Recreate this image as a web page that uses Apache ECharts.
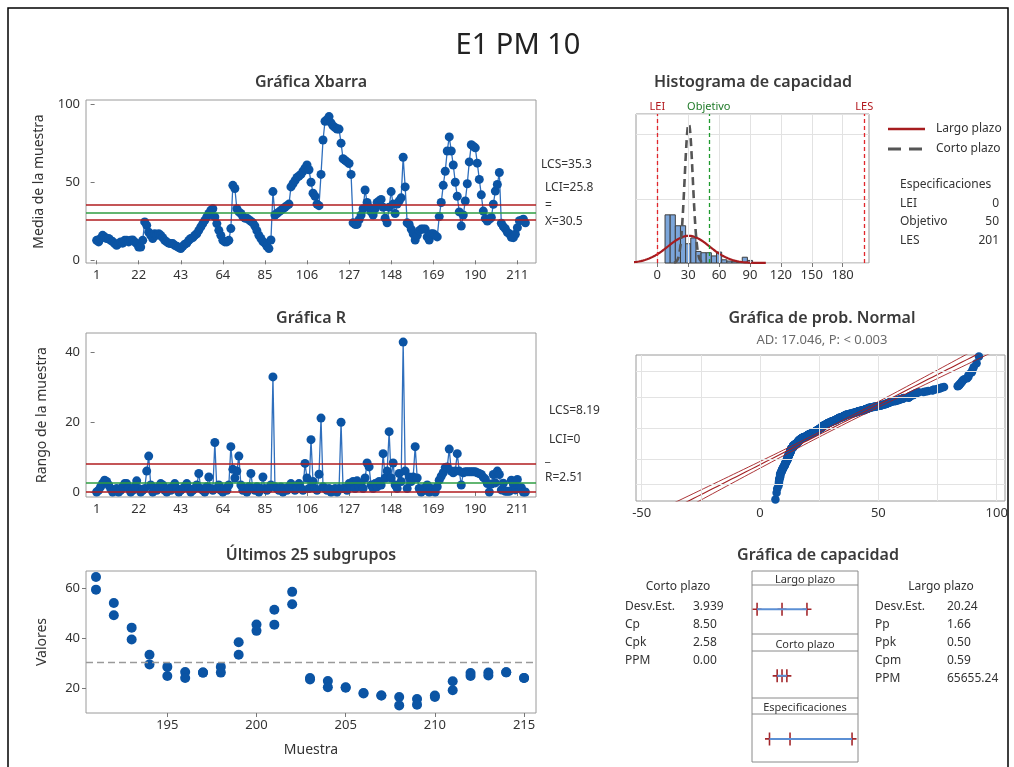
<!DOCTYPE html>
<html lang="es">
<head>
<meta charset="UTF-8">
<title>E1 PM 10</title>
<style>
  html, body { margin: 0; padding: 0; background: #fff; }
  #grafica { width: 1014px; height: 767px; }
</style>
<script src="https://cdn.jsdelivr.net/npm/echarts@6.0.0/dist/echarts.min.js"></script>
</head>
<body>
<div id="grafica"></div>
<script>
// ---- datos ----
// medias de subgrupo (n = 2), subgrupos 1..215
const mediasXbar = [
  12.8, 11.8, 14, 16, 15, 14, 14, 12.8, 12, 10.7,
  9.6, 10.7, 11.8, 11, 12.8, 12.8, 11.8, 12.8, 13, 11.8,
  10.7, 8.5, 8.5, 12.8, 24.6, 22.4, 18, 16, 14, 17,
  16, 17, 16, 14.5, 12.8, 11.8, 11, 10.7, 10.7, 9.6,
  9, 8.1, 7.5, 9, 10.3, 11, 12.8, 14, 14.5, 16,
  17, 19.2, 21.4, 23.5, 25.6, 27.8, 30, 32, 33, 27.8,
  23.5, 19.2, 16, 12.8, 11.8, 11.8, 12.8, 20.3, 48, 46,
  33, 31, 30, 28, 27, 27, 26, 25, 24, 22,
  19, 16, 14, 12, 11, 9, 7.5, 13, 44, 29,
  30, 31, 32, 33, 34, 35, 36, 47, 49, 51,
  53, 54, 55, 57, 59, 61, 58, 50, 43, 41,
  36, 35, 55, 77, 89, 90, 92, 88, 86, 85,
  84, 84, 75, 65, 64, 63, 62, 55, 24, 23,
  23, 26, 29, 33, 45, 37, 34, 31, 29, 33,
  37, 38, 39, 34, 27, 24, 34, 44, 36, 30,
  36, 38, 40, 66, 47, 24, 23, 20, 17, 13,
  16, 19, 20, 20, 20, 15, 13, 17, 17, 16,
  15, 28, 37, 48, 57, 70, 79, 70, 61, 50,
  41, 31, 22, 29, 38, 49, 63, 74, 73, 72,
  62.2, 51.8, 41.9, 31.5, 26.7, 25.2, 26.2, 27.4, 35.9, 44.3,
  48.5, 56.2, 23.7, 21.6, 20.2, 17.9, 17, 14.7, 14.5, 16.7,
  20.9, 25.4, 25.6, 26.3, 24
];

// rangos de subgrupo, subgrupos 1..215
const rangosR = [
  0, 0.5, 1.5, 2.5, 3.4, 3, 2, 1, 0, 0.5,
  1, 0, 0.5, 1.5, 2.4, 2.4, 1, 0, 0.5, 1.5,
  3.2, 1, 0, 0.5, 1, 6, 10.3, 2, 0, 1,
  0.5, 1.5, 2.4, 2, 0.5, 0, 1, 0.5, 1.5, 2.4,
  1, 0, 0.5, 1, 1.5, 2.4, 1, 0, 0.5, 1,
  2, 5.3, 1, 0.5, 0, 1.5, 4.3, 1, 0.5, 14.2,
  1, 2, 0.5, 0, 1, 0.5, 2, 13, 6.5, 4,
  6, 10.3, 2, 0.5, 1, 0, 1.5, 5.3, 1, 0.5,
  1.5, 0, 1, 4.3, 1, 0.5, 1, 2, 33, 1.5,
  1, 0.5, 1.4, 0, 1, 0.5, 1.5, 2.4, 1, 0.5,
  1, 2.4, 1, 0.5, 8.2, 4, 1, 15, 3, 1,
  0.5, 5.1, 21.2, 1.5, 1, 0.5, 1, 0, 0.5, 1,
  0, 1, 20, 1, 1, 0.5, 2.4, 1.5, 3, 1,
  3.2, 1.5, 2.4, 1, 4, 8.3, 7.2, 2, 1, 2.4,
  1.5, 3, 2, 11, 4, 6, 17.3, 4, 8.3, 2,
  1, 5.3, 3, 43, 6, 1, 4.3, 3, 4.3, 13,
  4, 1, 0, 1, 0.5, 2, 0, 1, 0.5, 0,
  1.5, 3.4, 4.5, 5.5, 7, 7.2, 12.3, 6, 5.5, 6,
  11, 6, 2, 5.5, 5.8, 5.8, 5.8, 5.8, 5.8, 5.8,
  5.5, 5.3, 5, 4.2, 3.7, 2.4, 0, 2.3, 5, 2.6,
  6, 5, 0.6, 2.5, 0.2, 0.2, 0.2, 3.4, 2.3, 0.6,
  3.6, 1.2, 1.2, 0, 0
];

// ultimos 25 subgrupos: valor alto y valor bajo de cada uno
const ultimosSub = [191, 192, 193, 194, 195, 196, 197, 198, 199, 200, 201, 202, 203,
  204, 205, 206, 207, 208, 209, 210, 211, 212, 213, 214, 215];
const ultimosAlto = [64.7, 54.2, 44.3, 33.4, 28.5, 26.4, 26.2, 28.5, 38.4, 45.6, 51.5, 58.7, 24.0,
  22.8, 20.3, 18.0, 17.0, 16.4, 15.6, 17.0, 22.7, 26.0, 26.2, 26.3, 24.0];
const ultimosBajo = [59.6, 49.3, 39.5, 29.5, 24.8, 24.0, 26.2, 26.2, 33.4, 43.0, 45.5, 53.7, 23.4,
  20.3, 20.1, 17.8, 17.0, 13.0, 13.3, 16.4, 19.1, 24.8, 25.0, 26.3, 24.0];

// histograma: marcas de clase (ancho 5) y frecuencias
const histMarcas = [10, 15, 20, 25, 30, 35, 40, 45, 50, 55, 60, 65, 70, 75, 80, 85, 90];
const histConteos = [75, 75, 58, 58, 30, 39, 18, 16, 16, 11, 17, 5, 3, 2, 1, 9, 4];
const anchoClase = 5;

// limites de control
const limitesXbar = [35.3, 30.5, 25.8];   // LCS, media, LCI
const limitesR = [8.19, 2.51, 0];         // LCS, R media, LCI

// especificaciones y estadisticos
const especNombres = ['LEI', 'Objetivo', 'LES'];
const especValores = [0, 50, 201];
const mediaProceso = 30.5;
const desvCorto = 3.939;
const desvLargo = 20.24;

const cortoNombres = ['Desv.Est.', 'Cp', 'Cpk', 'PPM'];
const cortoValores = ['3.939', '8.50', '2.58', '0.00'];
const largoNombres = ['Desv.Est.', 'Pp', 'Ppk', 'Cpm', 'PPM'];
const largoValores = ['20.24', '1.66', '0.50', '0.59', '65655.24'];

// marcas de los ejes
const ticksSub = [1, 22, 43, 64, 85, 106, 127, 148, 169, 190, 211];
const ticksUltimos = [195, 200, 205, 210, 215];
const ticksHist = [0, 30, 60, 90, 120, 150, 180];
const ticksProb = [-50, -25, 0, 25, 50, 75, 100];
const etiquetasProb = [-50, 0, 50, 100];
const percentilesProb = [1, 10, 50, 90, 99];

// ---- estilo ----
const FUENTE = 'Noto Sans';
const TXT = '#333333';
const AZUL = '#0b54a4';
const AZUL_LINEA = '#2f6fbd';
const ROJO = '#b01c1f';
const VERDE = '#2e9e42';
const BORDE = '#9a9a9a';

// normal inversa (Acklam)
function normalInv(p) {
  const a = [-3.969683028665376e+01, 2.209460984245205e+02, -2.759285104469687e+02, 1.383577518672690e+02, -3.066479806614716e+01, 2.506628277459239e+00];
  const b = [-5.447609879822406e+01, 1.615858368580409e+02, -1.556989798598866e+02, 6.680131188771972e+01, -1.328068155288572e+01];
  const c = [-7.784894002430293e-03, -3.223964580411365e-01, -2.400758277161838e+00, -2.549732539343734e+00, 4.374664141464968e+00, 2.938163982698783e+00];
  const d = [7.784695709041462e-03, 3.224671290700398e-01, 2.445134137142996e+00, 3.754408661907416e+00];
  const pl = 0.02425;
  let q, r;
  if (p < pl) {
    q = Math.sqrt(-2 * Math.log(p));
    return (((((c[0]*q+c[1])*q+c[2])*q+c[3])*q+c[4])*q+c[5]) / ((((d[0]*q+d[1])*q+d[2])*q+d[3])*q+1);
  }
  if (p > 1 - pl) {
    q = Math.sqrt(-2 * Math.log(1 - p));
    return -(((((c[0]*q+c[1])*q+c[2])*q+c[3])*q+c[4])*q+c[5]) / ((((d[0]*q+d[1])*q+d[2])*q+d[3])*q+1);
  }
  q = p - 0.5; r = q * q;
  return (((((a[0]*r+a[1])*r+a[2])*r+a[3])*r+a[4])*r+a[5])*q / (((((b[0]*r+b[1])*r+b[2])*r+b[3])*r+b[4])*r+1);
}

function densidadNormal(x, m, s) {
  return Math.exp(-0.5 * Math.pow((x - m) / s, 2)) / (s * Math.sqrt(2 * Math.PI));
}

// ---- datos derivados ----
const subgrupos = mediasXbar.map((v, i) => i + 1);
const datosXbar = subgrupos.map((s, i) => [s, mediasXbar[i]]);
const datosR = subgrupos.map((s, i) => [s, rangosR[i]]);

// observaciones individuales (n = 2): media +/- R/2
const individuales = [];
mediasXbar.forEach((m, i) => { individuales.push(m - rangosR[i] / 2, m + rangosR[i] / 2); });
individuales.sort((x, y) => x - y);
const nObs = individuales.length;
const datosProb = individuales.map((v, i) => [v, normalInv((i + 1 - 0.3) / (nObs + 0.4))]);

// curvas normales del histograma (escala de frecuencias)
function curva(s, k) {
  const out = [];
  for (let x = mediaProceso - k * s; x <= mediaProceso + k * s + 1e-9; x += s / 40) {
    out.push([x, densidadNormal(x, mediaProceso, s) * nObs * anchoClase]);
  }
  return out;
}

// recta ajustada e intervalos de confianza
const zRango = [];
for (let z = -3.4; z <= 3.41; z += 0.1) zRango.push(z);
const rectaAjuste = zRango.map(z => [mediaProceso + z * desvLargo, z]);
const bandaInf = zRango.map(z => [mediaProceso + z * desvLargo - 1.96 * desvLargo * Math.sqrt(1 / nObs + z * z / (2 * nObs)), z]);
const bandaSup = zRango.map(z => [mediaProceso + z * desvLargo + 1.96 * desvLargo * Math.sqrt(1 / nObs + z * z / (2 * nObs)), z]);

// grafica de capacidad: intervalos +/- 3 desv.
const filaLargo = 86.3, filaCorto = 48.7, filaEspec = 13;
const intLargo = [mediaProceso - 3 * desvLargo, mediaProceso, mediaProceso + 3 * desvLargo];
const intCorto = [mediaProceso - 3 * desvCorto, mediaProceso, mediaProceso + 3 * desvCorto];

// ---- ayudas ----
function texto(t, x, y, extra) {
  return {
    type: 'text', x: x, y: y, silent: true,
    style: Object.assign({
      text: t, fill: TXT, fontSize: 12, fontFamily: FUENTE,
      align: 'left', textAlign: 'left', verticalAlign: 'middle', textVerticalAlign: 'middle'
    }, extra || {})
  };
}
function titulo(t, x, y) {
  return texto(t, x, y, { fontSize: 16, fontWeight: 600, fill: '#3a3a3a', align: 'center', textAlign: 'center' });
}
function linea(x1, y1, x2, y2, color, ancho, guion) {
  return { type: 'line', silent: true, shape: { x1, y1, x2, y2 },
    style: { stroke: color, lineWidth: ancho, lineDash: guion || null } };
}

function ejeValor(gi, min, max, ticks, extra) {
  return Object.assign({
    type: 'value', gridIndex: gi, min: min, max: max,
    axisLine: { show: false },
    axisTick: { show: true, customValues: ticks, length: 4, lineStyle: { color: '#777' } },
    axisLabel: { customValues: ticks, color: TXT, fontSize: 13, fontFamily: FUENTE, margin: 6 },
    splitLine: { show: false }
  }, extra || {});
}
function nombreY(nombre, gap) {
  return { name: nombre, nameLocation: 'middle', nameGap: gap,
    nameTextStyle: { color: TXT, fontSize: 14, fontFamily: FUENTE } };
}
function lineasMarca(lista) {
  return { silent: true, symbol: 'none', animation: false, label: { show: false }, data: lista };
}

const cajaGrid = { show: true, borderColor: BORDE, borderWidth: 1, backgroundColor: 'transparent', outerBoundsMode: 'none' };

const marcaCruz = 'path://M0,5.2H8V6.8H0Z M3.3,0H4.7V12H3.3Z';
const puntoAzul = { color: AZUL, opacity: 1 };

// ---- grafica ----
const grafica = echarts.init(document.getElementById('grafica'));

const opcion = {
  animation: false,
  backgroundColor: '#ffffff',
  textStyle: { fontFamily: FUENTE },
  grid: [
    Object.assign({ left: 86, top: 100, width: 450, height: 163 }, cajaGrid),
    Object.assign({ left: 86, top: 333, width: 450, height: 164 }, cajaGrid),
    Object.assign({ left: 86, top: 571, width: 450, height: 142 }, cajaGrid),
    Object.assign({ left: 636, top: 114, width: 233, height: 149 }, cajaGrid),
    Object.assign({ left: 636, top: 355, width: 369, height: 146 }, cajaGrid),
    { left: 752, top: 585, width: 106, height: 177, show: false, outerBoundsMode: 'none' }
  ],
  xAxis: [
    ejeValor(0, -4.3, 220.3, ticksSub),
    ejeValor(1, -4.3, 220.3, ticksSub),
    ejeValor(2, 190.44, 215.67, ticksUltimos, {
      name: 'Muestra', nameLocation: 'middle', nameGap: 30,
      nameTextStyle: { color: TXT, fontSize: 14, fontFamily: FUENTE }
    }),
    ejeValor(3, -20.7, 205.6, ticksHist),
    Object.assign(ejeValor(4, -52.4, 103.5, ticksProb), {
      axisLabel: { customValues: etiquetasProb, color: TXT, fontSize: 13, fontFamily: FUENTE, margin: 6 }
    }),
    { type: 'value', gridIndex: 5, min: -42.6, max: 215.5, show: false }
  ],
  yAxis: [
    Object.assign(ejeValor(0, -1.7, 102.6, [0, 50, 100]), nombreY('Media de la muestra', 40)),
    Object.assign(ejeValor(1, -1.44, 45.6, [0, 20, 40]), nombreY('Rango de la muestra', 37)),
    Object.assign(ejeValor(2, 9.94, 67.1, [20, 40, 60]), nombreY('Valores', 37)),
    { type: 'value', gridIndex: 3, min: 0, max: 232, interval: 100,
      axisLine: { show: false }, axisTick: { show: false }, axisLabel: { show: false },
      splitLine: { show: true, lineStyle: { color: '#e2e2e2' } } },
    { type: 'value', gridIndex: 4, min: -3.0, max: 3.0,
      axisLine: { show: false }, axisTick: { show: false }, axisLabel: { show: false },
      splitLine: { show: false } },
    { type: 'value', gridIndex: 5, min: 0, max: 100, show: false }
  ],
  series: [
    // --- Xbarra ---
    { type: 'line', xAxisIndex: 0, yAxisIndex: 0, data: [],
      markLine: lineasMarca(limitesXbar.map((v, k) => ({ yAxis: v,
        lineStyle: { color: k === 1 ? VERDE : ROJO, width: 1.6, type: 'solid' } }))) },
    { type: 'line', xAxisIndex: 0, yAxisIndex: 0, data: datosXbar,
      symbol: 'circle', symbolSize: 9, showAllSymbol: true,
      lineStyle: { color: AZUL_LINEA, width: 1.3 }, itemStyle: puntoAzul },
    // --- R ---
    { type: 'line', xAxisIndex: 1, yAxisIndex: 1, data: [],
      markLine: lineasMarca(limitesR.map((v, k) => ({ yAxis: v,
        lineStyle: { color: k === 1 ? VERDE : ROJO, width: 1.6, type: 'solid' } }))) },
    { type: 'line', xAxisIndex: 1, yAxisIndex: 1, data: datosR,
      symbol: 'circle', symbolSize: 9, showAllSymbol: true,
      lineStyle: { color: AZUL_LINEA, width: 1.3 }, itemStyle: puntoAzul },
    // --- ultimos 25 ---
    { type: 'line', xAxisIndex: 2, yAxisIndex: 2, data: [],
      markLine: lineasMarca([{ yAxis: mediaProceso, lineStyle: { color: '#9a9a9a', width: 1.3, type: [7, 4] } }]) },
    { type: 'scatter', xAxisIndex: 2, yAxisIndex: 2, symbolSize: 10, itemStyle: puntoAzul,
      data: ultimosSub.map((s, i) => [s, ultimosAlto[i]]) },
    { type: 'scatter', xAxisIndex: 2, yAxisIndex: 2, symbolSize: 10, itemStyle: puntoAzul,
      data: ultimosSub.map((s, i) => [s, ultimosBajo[i]]) },
    // --- histograma ---
    { type: 'line', xAxisIndex: 3, yAxisIndex: 3, data: [],
      markLine: lineasMarca(ticksHist.map(v => ({ xAxis: v, lineStyle: { color: '#e2e2e2', width: 1, type: 'solid' } }))) },
    { type: 'custom', xAxisIndex: 3, yAxisIndex: 3,
      data: histMarcas.map((m, k) => [m - anchoClase / 2, m + anchoClase / 2, histConteos[k]]),
      encode: { x: [0, 1], y: 2 },
      renderItem: function (params, api) {
        const p0 = api.coord([api.value(0), api.value(2)]);
        const p1 = api.coord([api.value(1), 0]);
        return { type: 'rect', shape: { x: p0[0], y: p0[1], width: p1[0] - p0[0], height: p1[1] - p0[1] },
          style: { fill: '#7ba5da', stroke: '#3f3f3f', lineWidth: 1 } };
      } },
    { type: 'line', xAxisIndex: 3, yAxisIndex: 3, data: [],
      markLine: {
        silent: true, symbol: 'none', animation: false,
        data: especValores.map((v, k) => ({ xAxis: v, name: especNombres[k],
          lineStyle: { color: k === 1 ? '#1f9a2e' : '#e0262b', width: 1.3, type: [4, 3] },
          label: { show: true, position: 'end', formatter: especNombres[k], distance: 2,
            color: k === 1 ? '#1f7a28' : '#b3181d', fontSize: 11, fontFamily: FUENTE } }))
      } },
    { type: 'line', xAxisIndex: 3, yAxisIndex: 3, data: curva(desvLargo, 3.7), showSymbol: false,
      lineStyle: { color: '#a61c1f', width: 2.2 } },
    { type: 'line', xAxisIndex: 3, yAxisIndex: 3, data: curva(desvCorto, 3.6), showSymbol: false,
      lineStyle: { color: '#555555', width: 2.6, type: [8, 5] } },
    // --- probabilidad normal ---
    { type: 'line', xAxisIndex: 4, yAxisIndex: 4, data: [],
      markLine: lineasMarca(
        ticksProb.map(v => ({ xAxis: v, lineStyle: { color: '#e3e3e3', width: 1, type: 'solid' } }))
          .concat(percentilesProb.map(p => ({ yAxis: normalInv(p / 100), lineStyle: { color: '#e3e3e3', width: 1, type: 'solid' } })))) },
    { type: 'line', xAxisIndex: 4, yAxisIndex: 4, data: bandaInf, showSymbol: false, lineStyle: { color: '#a31f22', width: 0.9 } },
    { type: 'line', xAxisIndex: 4, yAxisIndex: 4, data: bandaSup, showSymbol: false, lineStyle: { color: '#a31f22', width: 0.9 } },
    { type: 'line', xAxisIndex: 4, yAxisIndex: 4, data: rectaAjuste, showSymbol: false, lineStyle: { color: '#a31f22', width: 1.1 } },
    { type: 'scatter', xAxisIndex: 4, yAxisIndex: 4, data: datosProb, symbolSize: 8.5, itemStyle: puntoAzul },
    // --- grafica de capacidad ---
    { type: 'line', xAxisIndex: 5, yAxisIndex: 5, showSymbol: false, lineStyle: { color: '#5b8fd4', width: 2 },
      data: [[intLargo[0], filaLargo], [intLargo[2], filaLargo]] },
    { type: 'line', xAxisIndex: 5, yAxisIndex: 5, showSymbol: false, lineStyle: { color: '#5b8fd4', width: 2 },
      data: [[intCorto[0], filaCorto], [intCorto[2], filaCorto]] },
    { type: 'line', xAxisIndex: 5, yAxisIndex: 5, showSymbol: false, lineStyle: { color: '#5b8fd4', width: 2 },
      data: [[especValores[0], filaEspec], [especValores[2], filaEspec]] },
    { type: 'scatter', xAxisIndex: 5, yAxisIndex: 5, symbol: marcaCruz, symbolSize: [9, 13],
      itemStyle: { color: '#a3262a', opacity: 1 },
      data: intLargo.map(v => [v, filaLargo]).concat(intCorto.map(v => [v, filaCorto]), especValores.map(v => [v, filaEspec])) }
  ],
  graphic: { elements: [] }
};

const g = opcion.graphic.elements;
// marco exterior
g.push({ type: 'rect', silent: true, shape: { x: 8, y: 8, width: 1000, height: 800 },
  style: { fill: 'none', stroke: '#000', lineWidth: 1.5 } });
// titulos
g.push(texto('E1 PM 10', 518, 46, { fontSize: 29, fill: '#222', align: 'center', textAlign: 'center' }));
g.push(titulo('Gráfica Xbarra', 311, 82));
g.push(titulo('Histograma de capacidad', 753, 82));
g.push(titulo('Gráfica R', 311, 318));
g.push(titulo('Gráfica de prob. Normal', 822, 318));
g.push(texto('AD: 17.046, P: < 0.003', 822, 340, { fontSize: 13, fill: '#6a6a6a', align: 'center', textAlign: 'center' }));
g.push(titulo('Últimos 25 subgrupos', 311, 555));
g.push(titulo('Gráfica de capacidad', 818, 555));
// etiquetas de limites
g.push(texto('LCS=' + limitesXbar[0], 541, 165));
g.push(texto('LCI=' + limitesXbar[2], 545, 188));
g.push(texto('=', 545, 206));
g.push(texto('X=' + limitesXbar[1], 545, 222));
g.push(texto('LCS=' + limitesR[0], 549, 411));
g.push(texto('LCI=' + limitesR[2], 549, 440));
g.push(texto('_', 545, 458));
g.push(texto('R=' + limitesR[1], 545, 478));
// leyenda del histograma
g.push(linea(888, 129, 925, 129, '#a61c1f', 2.5));
g.push(texto('Largo plazo', 936, 129));
g.push(linea(888, 149, 925, 149, '#555', 2.8, [13, 8]));
g.push(texto('Corto plazo', 936, 149));
g.push(texto('Especificaciones', 900, 185));
especNombres.forEach((n, k) => {
  g.push(texto(n, 900, 203.5 + k * 18.5));
  g.push(texto(String(especValores[k]), 999, 203.5 + k * 18.5, { align: 'right', textAlign: 'right' }));
});
// caja de la grafica de capacidad
g.push({ type: 'rect', silent: true, shape: { x: 752, y: 571, width: 106, height: 191 },
  style: { fill: 'none', stroke: '#8a8a8a', lineWidth: 1 } });
[585, 634, 651, 698, 714].forEach(y => g.push(linea(752, y, 858, y, '#8a8a8a', 1)));
g.push(texto('Largo plazo', 805, 580, { fontSize: 11, align: 'center', textAlign: 'center' }));
g.push(texto('Corto plazo', 805, 645, { fontSize: 11, align: 'center', textAlign: 'center' }));
g.push(texto('Especificaciones', 805, 708, { fontSize: 11, align: 'center', textAlign: 'center' }));
// estadisticos
g.push(texto('Corto plazo', 678, 587, { align: 'center', textAlign: 'center' }));
cortoNombres.forEach((n, k) => {
  g.push(texto(n, 625, 606.5 + k * 18));
  g.push(texto(cortoValores[k], 693, 606.5 + k * 18));
});
g.push(texto('Largo plazo', 941, 587, { align: 'center', textAlign: 'center' }));
largoNombres.forEach((n, k) => {
  g.push(texto(n, 875, 606.5 + k * 18));
  g.push(texto(largoValores[k], 947, 606.5 + k * 18));
});

grafica.setOption(opcion);
</script>
</body>
</html>
